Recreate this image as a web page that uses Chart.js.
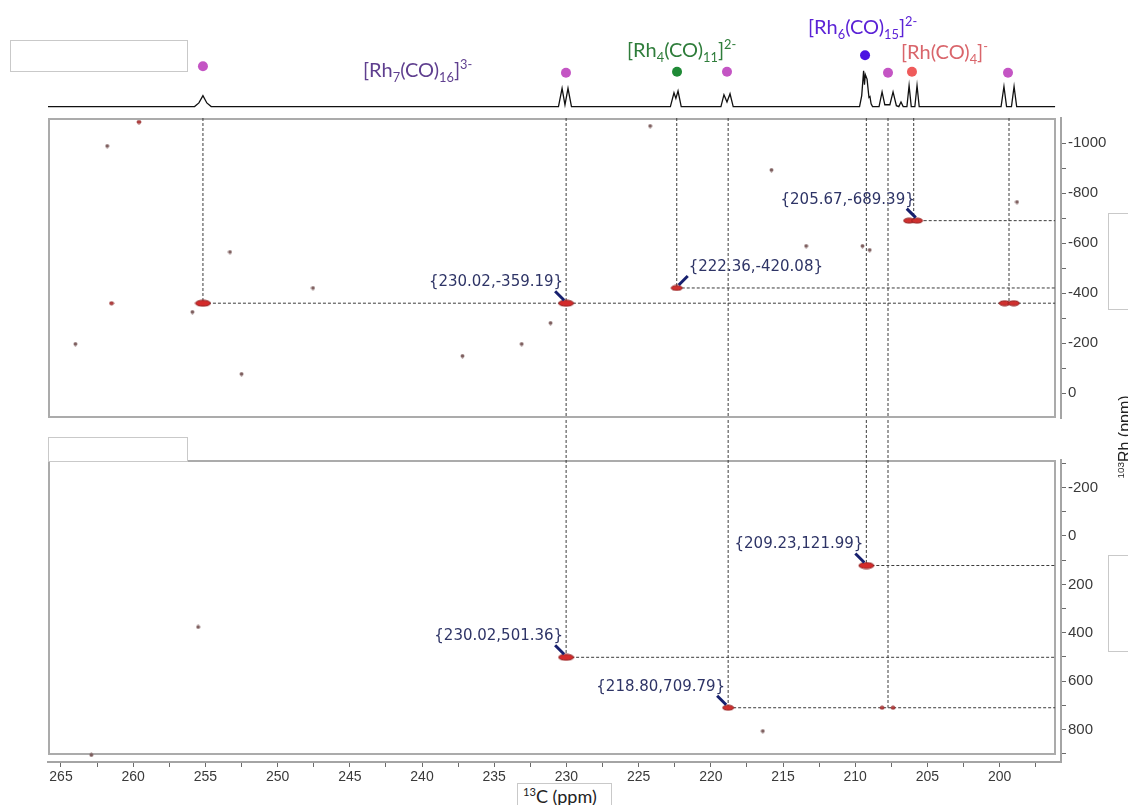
<!DOCTYPE html>
<html>
<head>
<meta charset="utf-8">
<script src="https://cdn.jsdelivr.net/npm/chart.js@4.4.0/dist/chart.umd.min.js"></script>
<style>
  body { margin: 0; background: #fff; width: 1128px; height: 805px; position: relative; overflow: hidden; }
  canvas { position: absolute; left: 0; }
  .box { position: absolute; border: 1px solid #c9c9c9; background: #fff; }
  .cpd { position: absolute; font-family: Lato, "Open Sans", sans-serif; font-size: 20px; line-height: 1; white-space: nowrap; z-index: 5; }
  .cpd sub, .cpd sup { font-size: 0.64em; line-height: 0; }
  .axtitle { position: absolute; font-family: Lato, "Open Sans", sans-serif; color: #222; white-space: nowrap; z-index: 5; }
  .axtitle sup { font-size: 0.62em; line-height: 0; }
</style>
</head>
<body>
<div class="box" style="left:10px;top:40px;width:176px;height:30px"></div>
<div class="box" style="left:48px;top:437px;width:138px;height:23px;z-index:4"></div>
<div class="box" style="left:1108px;top:213px;width:30px;height:95px;z-index:4"></div>
<div class="box" style="left:1108px;top:555px;width:30px;height:95px;z-index:4"></div>

<canvas id="spec" width="1128" height="118" style="top:0"></canvas>
<canvas id="top2d" width="1128" height="324" style="top:106px"></canvas>
<canvas id="bot2d" width="1128" height="387" style="top:418px"></canvas>

<div class="cpd" style="left:363px;top:59px;color:#5f3f8f">[Rh<sub>7</sub>(CO)<sub>16</sub>]<sup>3-</sup></div>
<div class="cpd" style="left:627px;top:39px;color:#2f7d3b">[Rh<sub>4</sub>(CO)<sub>11</sub>]<sup>2-</sup></div>
<div class="cpd" style="left:808px;top:16px;color:#5b22d6">[Rh<sub>6</sub>(CO)<sub>15</sub>]<sup>2-</sup></div>
<div class="cpd" style="left:901px;top:41px;color:#d9656b">[Rh(CO)<sub>4</sub>]<sup>-</sup></div>

<div class="box" style="left:517px;top:783px;width:93px;height:30px;z-index:4"></div>
<div class="axtitle" style="left:523px;top:785px;font-size:18px"><sup>13</sup>C (ppm)</div>
<div class="axtitle" style="left:1080px;top:428px;width:90px;font-family:'Liberation Sans',Arial,sans-serif;font-size:16px;transform:rotate(-90deg);transform-origin:50% 50%;text-align:center"><sup>103</sup>Rh (ppm)</div>

<script>
// 13C axis
const xLeft = 265.90;
const xRight = 195.75;
const boxEdgeC = 196.16;
const xMajorTicks = [265, 260, 255, 250, 245, 240, 235, 230, 225, 220, 215, 210, 205, 200];
const xMinorTicks = [262.5, 257.5, 252.5, 247.5, 242.5, 237.5, 232.5, 227.5, 222.5, 217.5, 212.5, 207.5, 202.5, 197.5];

// 103Rh axes
const topRhMajor = [-1000, -800, -600, -400, -200, 0];
const topRhMinor = [-900, -700, -500, -300, -100];
const botRhMajor = [-200, 0, 200, 400, 600, 800];
const botRhMinor = [-300, -100, 100, 300, 500, 700, 900];

// 1D 13C spectrum (ppm / intensity)
const specPpm = [265.90, 255.75, 255.45, 255.17, 254.90, 254.60,
  230.55, 230.30, 230.10, 229.89, 229.65,
  222.80, 222.55, 222.42, 222.27, 222.05,
  219.30, 219.09, 218.88, 218.67, 218.45,
  209.70, 209.55, 209.42, 209.36, 209.30, 209.18, 209.05, 208.98, 208.90, 208.80,
  208.35, 208.14, 207.95, 207.60, 207.38, 207.15, 206.98, 206.83, 206.68,
  206.42, 206.27, 206.12, 205.87, 205.72, 205.57,
  199.90, 199.70, 199.52, 199.18, 199.00, 198.82, 196.16];
const specInt = [0, 0, 4, 12, 4, 0,
  0, 20, 2, 20, 0,
  0, 15, 9, 17, 0,
  0, 13, 5, 14, 0,
  0, 12, 39, 24, 35, 30, 10, 11, 3, 0,
  0, 16, 2, 2, 16, 1, 0, 5, 0,
  0, 23, 0, 0, 23, 0,
  0, 22, 0, 0, 22, 0, 0];

// peak assignment markers
const rh7DotC = [255.17, 230.03, 218.88, 207.73, 199.42];
const rh7DotY = [44, 37, 38, 37, 37];
const rh4DotC = [222.34];
const rh4DotY = [38];
const rh6DotC = [209.32];
const rh6DotY = [56];
const rhco4DotC = [206.07];
const rhco4DotY = [38];

// upper 2D panel cross peaks
const topStrongC = [255.17, 230.02];
const topStrongRh = [-359.19, -359.19];
const topMediumC = [222.36, 206.27, 205.72, 199.65, 199.02];
const topMediumRh = [-420.08, -689.39, -689.39, -359.19, -359.19];
const topWeakC = [261.5, 259.6];
const topWeakRh = [-359.19, -1084];
const topNoiseC = [261.8, 253.3, 247.55, 255.9, 264.0, 252.5, 237.2, 233.1, 231.1, 224.2, 215.8, 213.4, 209.5, 209.0, 198.8];
const topNoiseRh = [-988, -564, -420, -324, -196, -76, -148, -196, -280, -1068, -892, -588, -588, -572, -764];

// lower 2D panel cross peaks
const botStrongC = [230.02, 209.23];
const botStrongRh = [501.36, 121.99];
const botMediumC = [218.80];
const botMediumRh = [709.79];
const botWeakC = [208.14, 207.38];
const botWeakRh = [709.79, 709.79];
const botNoiseC = [262.9, 255.5, 216.4];
const botNoiseRh = [905, 376, 806];

// guide lines
const topDropC = [255.17, 222.36, 205.95, 199.35];
const topDropRh = [-359.19, -420.08, -689.39, -359.19];
const throughC = [230.02, 218.80, 209.23, 207.73];
const throughRh = [501.36, 709.79, 121.99, 709.79];
const topRowFromC = [255.17, 222.36, 205.95];
const topRowRh = [-359.19, -420.08, -689.39];
const botRowFromC = [209.23, 230.02, 218.80];
const botRowRh = [121.99, 501.36, 709.79];

// callouts
const topCalloutC = [230.02, 222.36, 205.67];
const topCalloutRh = [-359.19, -420.08, -689.39];
const botCalloutC = [209.23, 230.02, 218.80];
const botCalloutRh = [121.99, 501.36, 709.79];

const pts = (xs, ys) => xs.map((x, i) => ({ x: x, y: ys[i] }));

function ellipse(w, h, fill, edge) {
  const c = document.createElement('canvas');
  c.width = w + 2; c.height = h + 2;
  const g = c.getContext('2d');
  g.beginPath();
  g.ellipse(c.width / 2, c.height / 2, w / 2, h / 2, 0, 0, Math.PI * 2);
  g.fillStyle = fill;
  g.fill();
  g.lineWidth = 1;
  g.strokeStyle = edge;
  g.stroke();
  return c;
}
const bigBlob = ellipse(15, 6, '#d42b2b', '#8e1c1c');
const midBlob = ellipse(11, 5, '#d0302f', '#8e1c1c');
const smallBlob = ellipse(4, 3, '#c04040', '#8e2c2c');
const noiseDot = ellipse(3, 3, '#7a5a5a', '#7a5a5a');

const panelBox = {
  id: 'panelBox',
  beforeDatasetsDraw(chart, args, opts) {
    if (!opts.draw) return;
    const { ctx, chartArea: a } = chart;
    ctx.save();
    ctx.strokeStyle = '#ababab';
    ctx.lineWidth = 2;
    const bottom = a.bottom - opts.bottomInset;
    ctx.strokeRect(a.left + 1, a.top + 1, a.right - 6 - a.left - 1, bottom - a.top - 2);
    ctx.restore();
  }
};

const callouts = {
  id: 'callouts',
  afterDatasetsDraw(chart, args, opts) {
    const items = opts.items || [];
    const { ctx, scales } = chart;
    ctx.save();
    ctx.font = '15px "DejaVu Sans", Verdana, sans-serif';
    ctx.textBaseline = 'middle';
    items.forEach(it => {
      const px = scales.x.getPixelForValue(it.c);
      const py = scales.y.getPixelForValue(it.rh);
      const label = '{' + it.c.toFixed(2) + ',' + it.rh.toFixed(2) + '}';
      ctx.strokeStyle = '#17206e';
      ctx.lineWidth = 3;
      ctx.beginPath();
      if (it.right) {
        ctx.moveTo(px + 11, py - 12);
        ctx.lineTo(px + 2, py - 3);
      } else {
        ctx.moveTo(px - 11, py - 12);
        ctx.lineTo(px - 2, py - 3);
      }
      ctx.stroke();
      ctx.fillStyle = '#2e3466';
      if (it.right) {
        ctx.textAlign = 'left';
        ctx.fillText(label, px + 12, py - 21);
      } else {
        ctx.textAlign = 'right';
        ctx.fillText(label, px - 3, py - 21);
      }
    });
    ctx.restore();
  }
};

const dash = (data, clip) => ({
  type: 'line',
  data: data,
  borderColor: '#3c3c3c',
  borderWidth: 1,
  borderDash: [3, 2],
  pointRadius: 0,
  fill: false,
  order: 3,
  clip: clip === undefined ? 0 : clip
});
const blobs = (data, style) => ({
  type: 'scatter',
  data: data,
  pointStyle: style,
  pointRadius: 5,
  order: 1
});

const axisFont = { family: '"Liberation Sans", Arial, sans-serif', size: 15 };

function xScale(show) {
  return {
    type: 'linear',
    min: xRight,
    max: xLeft,
    reverse: true,
    display: show,
    afterBuildTicks: s => {
      s.ticks = xMajorTicks.concat(xMinorTicks).sort((a, b) => b - a).map(v => ({ value: v }));
    },
    afterFit: s => { s.height = show ? 43 : 0; },
    border: { color: '#a4a4a4', width: 2 },
    grid: { drawOnChartArea: false, drawTicks: true, tickLength: 5, color: '#6a6a6a' },
    ticks: {
      autoSkip: false, maxRotation: 0, padding: 2, color: '#3a3a3a',
      font: { family: '"Liberation Sans", Arial, sans-serif', size: 14 },
      callback: v => xMajorTicks.includes(v) ? String(v) : ''
    }
  };
}
function rhScale(min, max, major, minor) {
  return {
    type: 'linear',
    position: 'right',
    min: min,
    max: max,
    reverse: true,
    afterBuildTicks: s => {
      s.ticks = major.concat(minor).sort((a, b) => a - b).map(v => ({ value: v }));
    },
    afterFit: s => { s.width = 67; },
    border: { color: '#a4a4a4', width: 2 },
    grid: { drawOnChartArea: false, drawTicks: true, tickLength: 5, color: '#6a6a6a' },
    ticks: {
      autoSkip: false, padding: 2, color: '#3a3a3a', font: axisFont,
      callback: v => major.includes(v) ? String(v) : ''
    }
  };
}
const common = {
  responsive: false,
  animation: false,
  events: [],
  plugins: { legend: { display: false }, tooltip: { enabled: false } }
};

// 1D spectrum
new Chart(document.getElementById('spec'), {
  type: 'line',
  data: {
    datasets: [
      { type: 'line', data: pts(specPpm, specInt), borderColor: '#111', borderWidth: 1.3, pointRadius: 0, tension: 0, order: 2 },
      { type: 'scatter', data: pts(rh7DotC, rh7DotY), backgroundColor: '#c455c4', borderWidth: 0, pointRadius: 5, order: 1 },
      { type: 'scatter', data: pts(rh4DotC, rh4DotY), backgroundColor: '#1f8a36', borderWidth: 0, pointRadius: 5, order: 1 },
      { type: 'scatter', data: pts(rh6DotC, rh6DotY), backgroundColor: '#4b12e2', borderWidth: 0, pointRadius: 5, order: 1 },
      { type: 'scatter', data: pts(rhco4DotC, rhco4DotY), backgroundColor: '#ef5b5b', borderWidth: 0, pointRadius: 5, order: 1 }
    ]
  },
  options: Object.assign({}, common, {
    layout: { padding: { left: 48, right: 67, top: 0, bottom: 0 } },
    scales: {
      x: { type: 'linear', min: xRight, max: xLeft, reverse: true, display: false },
      y: { type: 'linear', min: -7, max: 111, display: false }
    }
  })
});

// upper 2D panel
const topLines = []
  .concat(topDropC.map((c, i) => dash([{ x: c, y: -1100 }, { x: c, y: topDropRh[i] }])))
  .concat(throughC.map(c => dash([{ x: c, y: -1100 }, { x: c, y: 100 }])))
  .concat(topRowRh.map((r, i) => dash([{ x: topRowFromC[i], y: r }, { x: boxEdgeC, y: r }])));

new Chart(document.getElementById('top2d'), {
  type: 'scatter',
  data: {
    datasets: topLines.concat([
      blobs(pts(topStrongC, topStrongRh), bigBlob),
      blobs(pts(topMediumC, topMediumRh), midBlob),
      blobs(pts(topWeakC, topWeakRh), smallBlob),
      blobs(pts(topNoiseC, topNoiseRh), noiseDot)
    ])
  },
  options: Object.assign({}, common, {
    layout: { padding: { left: 48, right: 0, top: 12, bottom: 12 } },
    scales: {
      x: xScale(false),
      y: rhScale(-1100, 100, topRhMajor, topRhMinor)
    },
    plugins: Object.assign({}, common.plugins, {
      panelBox: { draw: true, bottomInset: 0 },
      callouts: { items: topCalloutC.map((c, i) => ({ c: c, rh: topCalloutRh[i], right: i === 1 })) }
    })
  }),
  plugins: [panelBox, callouts]
});

// lower 2D panel
const botLines = []
  .concat(throughC.map((c, i) => dash([{ x: c, y: -500 }, { x: c, y: throughRh[i] }], false)))
  .concat(botRowRh.map((r, i) => dash([{ x: botRowFromC[i], y: r }, { x: boxEdgeC, y: r }])));

new Chart(document.getElementById('bot2d'), {
  type: 'scatter',
  data: {
    datasets: botLines.concat([
      blobs(pts(botStrongC, botStrongRh), bigBlob),
      blobs(pts(botMediumC, botMediumRh), midBlob),
      blobs(pts(botWeakC, botWeakRh), smallBlob),
      blobs(pts(botNoiseC, botNoiseRh), noiseDot)
    ])
  },
  options: Object.assign({}, common, {
    layout: { padding: { left: 48, right: 0, top: 42, bottom: 0 } },
    scales: {
      x: xScale(true),
      y: rhScale(-314, 934, botRhMajor, botRhMinor)
    },
    plugins: Object.assign({}, common.plugins, {
      panelBox: { draw: true, bottomInset: 7 },
      callouts: { items: botCalloutC.map((c, i) => ({ c: c, rh: botCalloutRh[i], right: false })) }
    })
  }),
  plugins: [panelBox, callouts]
});
</script>
</body>
</html>
